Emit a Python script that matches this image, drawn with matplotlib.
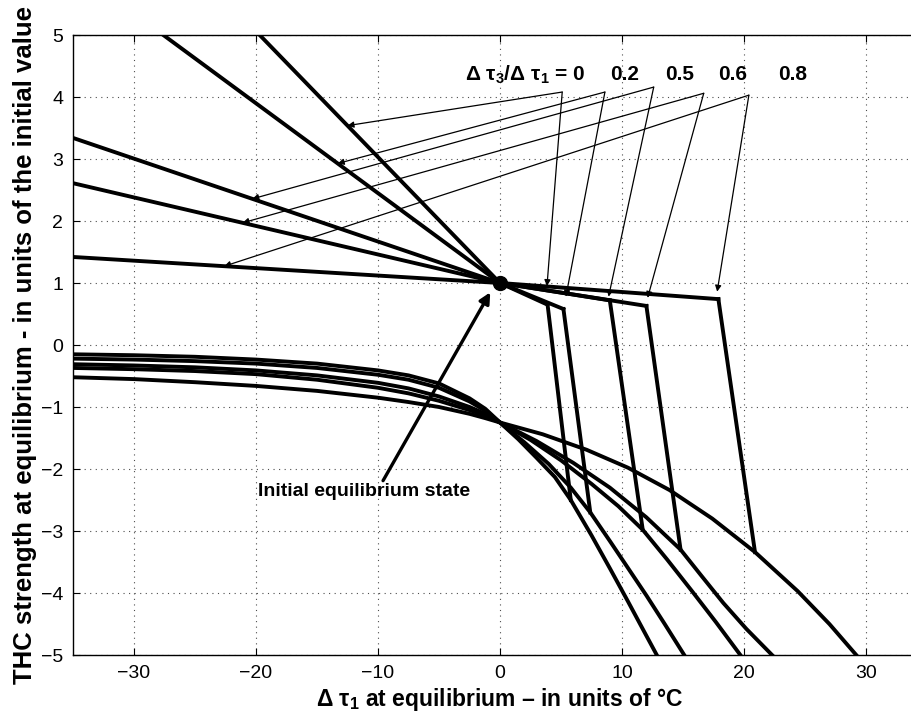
import numpy as np
import matplotlib
matplotlib.use("Agg")
import matplotlib.pyplot as plt

plt.rcParams['font.family'] = ['Liberation Sans', 'DejaVu Sans']
plt.rcParams['mathtext.fontset'] = 'custom'
plt.rcParams['mathtext.rm'] = 'Liberation Sans'
plt.rcParams['mathtext.bf'] = 'Liberation Sans:bold'
plt.rcParams['mathtext.default'] = 'bf'

# ratio dtau3/dtau1 for each run
ratios = ['0', '0.2', '0.5', '0.6', '0.8']

# upper (thermally driven) branch: left end, initial state, turning point
upper_x = [[-19.7, 0, 3.9], [-27.6, 0, 5.2], [-35, 0, 9.0], [-35, 0, 12.0], [-35, 0, 17.9]]
upper_y = [[5.0, 1.0, 0.65], [5.0, 1.0, 0.58], [3.34, 1.0, 0.72], [2.61, 1.0, 0.63], [1.42, 1.0, 0.74]]

# where the collapse from the turning point lands on the lower branch
drop_x = [5.8, 7.4, 11.7, 14.8, 20.9]
drop_y = [-2.5, -2.7, -2.98, -3.3, -3.34]

# lower (reversed) branch
left_x = [-35, -30, -25, -20, -15, -10, -7.5, -5, -2.5, -1.2, 0]
lower_x = [
    left_x + [1.5, 3, 4.5, 5.8, 7.5, 9, 10.5, 12, 12.85],
    left_x + [2, 4, 5.8, 7.4, 9, 10.5, 12, 13.5, 15.1],
    left_x + [2.5, 5, 7.5, 9.7, 11.7, 13.7, 15.7, 17.7, 19.7],
    left_x + [3, 6, 9, 12, 14.8, 16.5, 18.3, 20.2, 22.3],
    left_x + [3.5, 7.1, 10.5, 13.9, 17.4, 20.9, 24.4, 27, 29.2],
]
lower_y = [
    [-0.15, -0.165, -0.19, -0.235, -0.30, -0.41, -0.49, -0.62, -0.86, -1.03, -1.25,
     -1.52, -1.82, -2.13, -2.5, -3.07, -3.6, -4.14, -4.69, -5.0],
    [-0.22, -0.235, -0.26, -0.30, -0.37, -0.48, -0.56, -0.69, -0.91, -1.06, -1.25,
     -1.57, -1.92, -2.3, -2.7, -3.16, -3.6, -4.04, -4.5, -5.0],
    [-0.31, -0.33, -0.36, -0.41, -0.49, -0.61, -0.70, -0.83, -1.0, -1.11, -1.25,
     -1.53, -1.86, -2.24, -2.6, -2.98, -3.46, -3.96, -4.47, -5.0],
    [-0.37, -0.39, -0.42, -0.47, -0.56, -0.69, -0.78, -0.90, -1.05, -1.14, -1.25,
     -1.55, -1.9, -2.3, -2.78, -3.3, -3.72, -4.16, -4.58, -5.0],
    [-0.52, -0.55, -0.60, -0.66, -0.74, -0.85, -0.92, -1.0, -1.11, -1.18, -1.25,
     -1.44, -1.69, -1.98, -2.34, -2.8, -3.34, -3.97, -4.5, -5.0],
]

# label arrows: start under each ratio label, one to the upper line, one to the turning point
label_x = [7.0, 10.2, 14.7, 19.1, 24.0]
apex_x = [5.1, 8.6, 12.6, 16.7, 20.4]
apex_y = [4.08, 4.08, 4.16, 4.06, 4.03]
left_tip_x = [-12.5, -13.3, -20.3, -21.1, -22.6]
right_tip_x = [3.85, 5.4, 8.9, 12.1, 17.8]
right_tip_y = [0.95, 0.78, 0.78, 0.76, 0.86]

fig = plt.figure(figsize=(9.11, 7.2), dpi=100)
ax = fig.add_axes([73 / 911, 65 / 720, 854 / 911, 620 / 720])

lw = 2.8
for i in range(len(ratios)):
    ax.plot(upper_x[i], upper_y[i], color='k', lw=lw, solid_joinstyle='round')
    ax.plot([upper_x[i][-1], drop_x[i]], [upper_y[i][-1], drop_y[i]], color='k', lw=lw)
    ax.plot(lower_x[i], lower_y[i], color='k', lw=lw, solid_joinstyle='round')

ax.plot([0], [1], 'o', color='k', markersize=10)

arrow = dict(arrowstyle='-|>', color='k', lw=0.9, mutation_scale=9, shrinkA=0, shrinkB=0)
for i in range(len(ratios)):
    ly = np.interp(left_tip_x[i], upper_x[i][:2], upper_y[i][:2])
    ax.annotate('', xy=(left_tip_x[i], ly), xytext=(apex_x[i], apex_y[i]), arrowprops=arrow)
    ax.annotate('', xy=(right_tip_x[i], right_tip_y[i]), xytext=(apex_x[i], apex_y[i]), arrowprops=arrow)

ax.text(label_x[0], 4.27, 'Δ τ$_3$/Δ τ$_1$ = ' + ratios[0], fontsize=15,
        fontweight='bold', ha='right', va='baseline')
for i in range(1, len(ratios)):
    ax.text(label_x[i], 4.27, ratios[i], fontsize=15, fontweight='bold',
            ha='center', va='baseline')

ax.annotate('Initial equilibrium state', xy=(-0.8, 0.85), xytext=(-19.8, -2.37),
            fontsize=14, fontweight='bold', ha='left', va='center',
            arrowprops=dict(arrowstyle='-|>', color='k', lw=2.4, mutation_scale=16,
                            shrinkA=0, shrinkB=0, relpos=(0.58, 1.0)))

ax.set_xlim(-35, 35)
ax.set_ylim(-5, 5)
ax.set_xticks(np.arange(-30, 31, 10))
ax.set_yticks(np.arange(-5, 6, 1))
ax.tick_params(direction='in', length=5, width=0.8, labelsize=14, pad=7,
               top=True, right=True)
ax.grid(True, linestyle=(0, (1, 4)), color='0.3', lw=0.8)
for s in ax.spines.values():
    s.set_linewidth(1.0)

ax.set_xlabel('Δ τ$_1$ at equilibrium – in units of °C', fontsize=16.5, fontweight='bold', labelpad=3)
ax.set_ylabel('THC strength at equilibrium - in units of the initial value', fontsize=18.5,
              fontweight='bold', labelpad=3)

fig.savefig('out.png', dpi=100)
